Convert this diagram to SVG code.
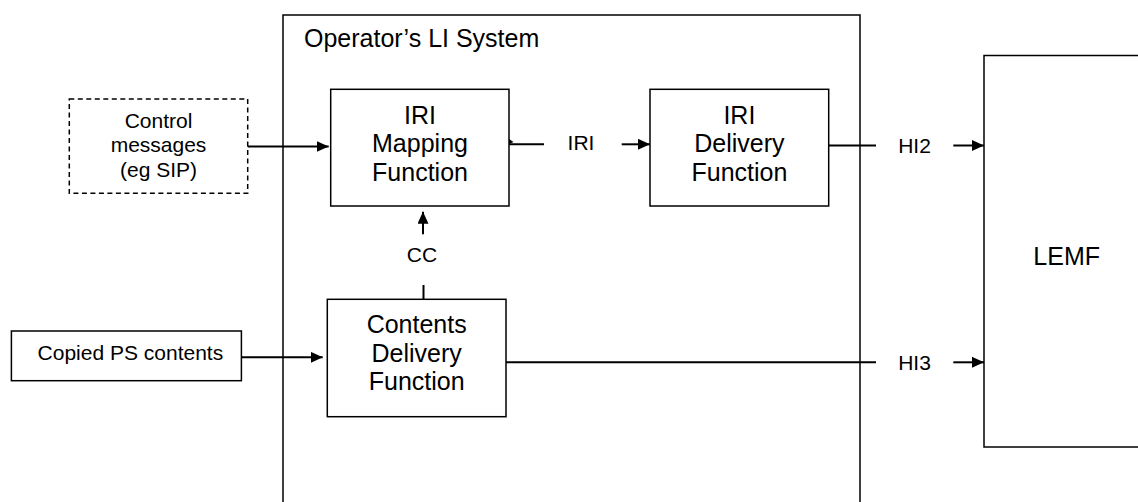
<svg xmlns="http://www.w3.org/2000/svg" width="1138" height="502" viewBox="0 0 1138 502">
  <defs>
    <marker id="arrow" markerUnits="userSpaceOnUse" markerWidth="12" markerHeight="11" refX="12" refY="5.5" orient="auto">
      <path d="M0,0 L12,5.5 L0,11 z" fill="#000"/>
    </marker>
  </defs>
  <style>
    .box{fill:#fff;stroke:#000;stroke-width:1.5}
    .frame{fill:none;stroke:#000;stroke-width:1.5}
    .dash{fill:#fff;stroke:#000;stroke-width:1.5;stroke-dasharray:5 3.5}
    .t{font-family:"Liberation Sans",Arial,sans-serif;fill:#000;text-anchor:middle}
    .big{font-size:25px}
    .small{font-size:21px}
    .line{stroke:#000;stroke-width:2;fill:none}
    .arr{stroke:#000;stroke-width:2;fill:none;marker-end:url(#arrow)}
  </style>
  <rect width="1138" height="502" fill="#fff"/>

  <!-- operator system boundary -->
  <g id="operator-system">
    <rect class="frame" x="283" y="15" width="577" height="500"/>
    <text class="t big" x="304" y="47" style="text-anchor:start">Operator’s LI System</text>
  </g>

  <g id="lemf">
    <rect class="box" x="984" y="55.5" width="170" height="391.5"/>
    <text class="t big" x="1066.7" y="265">LEMF</text>
  </g>

  <g id="control-messages">
    <rect class="dash" x="69.3" y="99" width="178.4" height="94.3"/>
    <text class="t small" x="158.5" y="127.5">Control</text>
    <text class="t small" x="158.5" y="152">messages</text>
    <text class="t small" x="158.5" y="176.5">(eg SIP)</text>
  </g>

  <g id="iri-mapping">
    <rect class="box" x="330.7" y="89.3" width="178.3" height="116.7"/>
    <text class="t big" x="420" y="123.5">IRI</text>
    <text class="t big" x="420" y="152">Mapping</text>
    <text class="t big" x="420" y="180.5">Function</text>
  </g>

  <g id="iri-delivery">
    <rect class="box" x="650" y="89.3" width="178.7" height="116.7"/>
    <text class="t big" x="739.4" y="123.5">IRI</text>
    <text class="t big" x="739.4" y="152">Delivery</text>
    <text class="t big" x="739.4" y="180.5">Function</text>
  </g>

  <g id="contents-delivery">
    <rect class="box" x="327.3" y="299.3" width="178.7" height="117.4"/>
    <text class="t big" x="416.7" y="333">Contents</text>
    <text class="t big" x="416.7" y="361.5">Delivery</text>
    <text class="t big" x="416.7" y="390">Function</text>
  </g>

  <g id="copied-ps-contents">
    <rect class="box" x="11.4" y="331" width="230" height="49.7"/>
    <text class="t small" x="130.4" y="359.5">Copied PS contents</text>
  </g>

  <g id="connectors">
    <path class="arr" d="M247.7,146.5 H328.7"/>
    <!-- IRI -->
    <path class="line" d="M509,144.3 H544"/>
    <path d="M509,139 L513.5,142 L509,144 z" fill="#000"/>
    <text class="t small" x="581" y="150">IRI</text>
    <path class="arr" d="M621.7,144.3 H650"/>
    <!-- HI2 -->
    <path class="line" d="M828.7,145.5 H876"/>
    <text class="t small" x="914.5" y="152.5">HI2</text>
    <path class="arr" d="M953.3,145.5 H984"/>
    <!-- CC -->
    <path class="arr" d="M423,234.3 V211.7"/>
    <text class="t small" x="422" y="261.7">CC</text>
    <path class="line" d="M423.5,285 V299.3"/>
    <!-- copied contents in -->
    <path class="arr" d="M241.4,357.3 H322.7"/>
    <!-- HI3 -->
    <path class="line" d="M506,362.3 H876"/>
    <text class="t small" x="914.5" y="370">HI3</text>
    <path class="arr" d="M953.3,362.3 H984"/>
  </g>
</svg>
